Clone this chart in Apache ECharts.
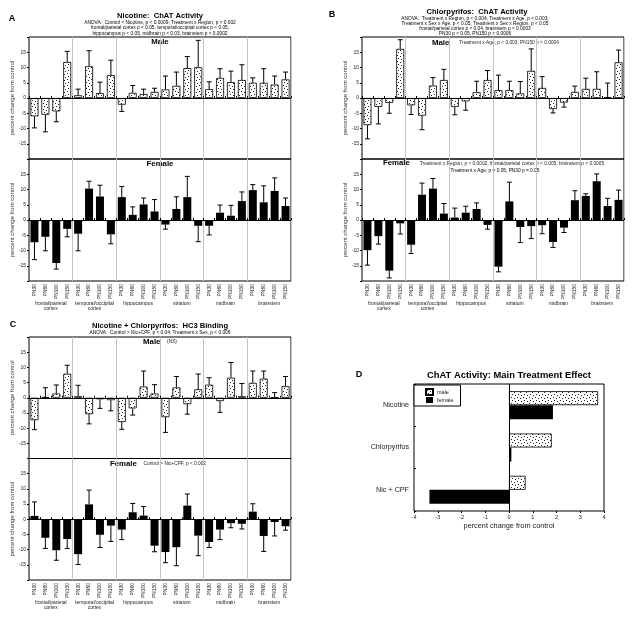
<!DOCTYPE html>
<html>
<head>
<meta charset="utf-8">
<script src="https://cdn.jsdelivr.net/npm/echarts@6/dist/echarts.min.js"></script>
<style>
  html, body { margin: 0; padding: 0; background: #fff; }
  #chart { width: 635px; height: 619px; }
</style>
</head>
<body>
<div id="chart"></div>
<script>
// ages within each brain region
const ages = ['PN30', 'PN60', 'PN100', 'PN150']
const regions = ['frontal/parietal\ncortex', 'temporal/occipital\ncortex', 'hippocampus', 'striatum', 'midbrain', 'brainstem']

// A: nicotine, ChAT activity (% change from control), mean and SE
const nicMale = [-6.0, -5.5, -4.4, 11.8, 0.9, 10.4, 1.6, 7.5, -2.2, 1.7, 1.3, 2.0, 2.8, 4.0, 9.8, 10.1, 2.9, 6.6, 5.2, 5.9, 5.0, 5.0, 4.4, 6.1]
const nicMaleErr = [3.8, 5.6, 3.4, 3.5, 2.0, 5.1, 3.6, 4.9, 2.2, 2.4, 1.6, 1.2, 4.4, 4.5, 3.8, 8.8, 2.4, 3.0, 3.6, 5.0, 1.6, 4.6, 2.8, 2.4]
const nicFemale = [-7.3, -5.5, -14.1, -2.9, -4.5, 10.3, 7.7, -4.7, 7.5, 1.7, 5.1, 2.8, -1.5, 3.6, 7.5, -1.9, -1.9, 2.4, 1.4, 6.2, 9.8, 5.8, 9.5, 4.6]
const nicFemaleErr = [5.7, 4.6, 2.0, 2.6, 5.6, 2.4, 3.7, 3.1, 3.5, 2.6, 2.1, 3.9, 1.5, 4.0, 6.8, 5.2, 3.0, 2.5, 3.4, 3.0, 1.8, 5.4, 4.3, 2.6]

// B: chlorpyrifos, ChAT activity
const cpfMale = [-8.9, -2.9, -1.6, 16.1, -2.4, -5.8, 4.1, 5.9, -2.9, -1.1, 1.9, 5.9, 2.6, 2.6, 1.5, 8.9, 3.3, -3.6, -1.5, 2.0, 3.0, 3.0, 0.3, 11.7]
const cpfMaleErr = [4.5, 5.6, 3.4, 3.0, 3.0, 4.6, 2.6, 3.5, 2.6, 2.9, 3.6, 3.1, 4.9, 2.9, 3.9, 7.2, 3.7, 1.3, 1.5, 1.9, 3.5, 5.6, 4.6, 4.0]
const cpfFemale = [-9.9, -5.3, -16.6, -1.1, -8.1, 8.3, 10.3, 2.1, 0.8, 2.4, 3.6, -1.6, -15.3, 6.1, -2.3, -2.0, -1.7, -7.2, -2.5, 6.5, 7.9, 12.7, 4.6, 6.6]
const cpfFemaleErr = [4.9, 2.6, 2.4, 3.5, 2.9, 3.8, 3.3, 3.3, 3.1, 2.1, 2.0, 1.4, 1.7, 6.3, 5.1, 4.1, 2.8, 1.8, 1.6, 3.1, 0.7, 2.4, 2.5, 3.2]

// C: nicotine + chlorpyrifos, HC3 binding
const ncMale = [-7.4, 0.2, 1.4, 7.9, 0.5, -5.4, -0.5, -0.8, -8.0, -3.5, 3.7, 1.4, -6.4, 3.4, -2.1, 2.8, 4.3, -1.1, 6.6, 0.5, 4.9, 6.3, 0.1, 3.8]
const ncMaleErr = [3.1, 3.1, 2.8, 2.8, 3.6, 3.2, 3.0, 3.5, 2.4, 2.2, 5.1, 2.9, 5.0, 3.6, 3.3, 5.0, 2.3, 3.7, 5.0, 4.2, 3.9, 2.5, 1.6, 3.2]
const ncFemale = [1.1, -6.1, -10.2, -6.5, -11.5, 4.9, -5.1, -2.1, -3.4, 2.3, 1.2, -8.7, -10.8, -9.2, 4.5, -5.4, -7.5, -3.4, -1.3, -1.5, 2.5, -5.5, -0.9, -2.3]
const ncFemaleErr = [4.6, 3.5, 3.3, 3.1, 3.4, 4.7, 4.2, 5.2, 3.3, 2.9, 3.0, 2.0, 3.5, 6.1, 3.8, 6.6, 1.8, 3.3, 1.5, 1.7, 2.6, 5.1, 4.6, 1.3]

// D: main treatment effect
const treatments = ['Nicotine', 'Chlorpyrifos', 'Nic + CPF']
const mainMale = [3.75, 1.8, 0.7]
const mainFemale = [1.85, 0.1, -3.35]

const FONT = 'Liberation Sans'
const cats = []
regions.forEach(() => ages.forEach(a => cats.push(a)))

// stippled fill for the male bars
function dots() {
  const c = document.createElement('canvas')
  c.width = 6
  c.height = 6
  const ctx = c.getContext('2d')
  ctx.fillStyle = '#fff'
  ctx.fillRect(0, 0, 6, 6)
  ctx.fillStyle = '#222'
  ;[[1, 1], [4, 2], [2, 4], [5, 5]].forEach(p => ctx.fillRect(p[0], p[1], 1, 1))
  return { image: c, repeat: 'repeat' }
}
const stipple = dots()

function errBar(params, api) {
  const i = api.value(0)
  const v = api.value(1)
  const e = api.value(2)
  const p0 = api.coord([i, v])
  const p1 = api.coord([i, v >= 0 ? v + e : v - e])
  const st = { stroke: '#000', lineWidth: 1 }
  return {
    type: 'group',
    children: [
      { type: 'line', shape: { x1: p0[0], y1: p0[1], x2: p1[0], y2: p1[1] }, style: st },
      { type: 'line', shape: { x1: p1[0] - 2.5, y1: p1[1], x2: p1[0] + 2.5, y2: p1[1] }, style: st }
    ]
  }
}

const grid = []
const xAxis = []
const yAxis = []
const series = []

function panel(left, top, height, vals, errs, male) {
  const g = grid.length
  grid.push({ left: left, top: top, width: 262, height: height, show: true, borderColor: '#000', borderWidth: 1 })
  const xi = xAxis.length
  xAxis.push({
    type: 'category', gridIndex: g, data: cats, position: 'bottom',
    axisLine: { show: false },
    axisTick: { show: true, inside: true, length: 2, interval: 0, lineStyle: { color: '#000' } },
    axisLabel: { show: !male, rotate: 90, fontSize: 5, margin: 3, interval: 0, color: '#222' },
    splitLine: { show: true, interval: (i) => i > 0 && i % 4 === 0, lineStyle: { color: '#c4c4c4', width: 1 } }
  })
  if (!male) {
    xAxis.push({
      type: 'category', gridIndex: g, data: regions, position: 'bottom', offset: 20,
      axisLine: { show: false }, axisTick: { show: false }, splitLine: { show: false },
      axisLabel: { interval: 0, fontSize: 5, lineHeight: 5.2, margin: 0, color: '#222' }
    })
  }
  const yi = yAxis.length
  yAxis.push({
    type: 'value', gridIndex: g, min: -20, max: 20, interval: 5,
    axisLine: { show: false },
    axisTick: { show: true, length: 2, lineStyle: { color: '#000' } },
    splitLine: { show: false },
    axisLabel: { fontSize: 5, color: '#222', margin: 3, formatter: v => Math.abs(v) === 20 ? '' : String(v) },
    name: 'percent change from control', nameLocation: 'middle', nameGap: 14,
    nameTextStyle: { fontSize: 6, color: '#333' }
  })
  series.push({
    type: 'bar', xAxisIndex: xi, yAxisIndex: yi, data: vals, barWidth: 8,
    itemStyle: male ? { color: stipple, borderColor: '#000', borderWidth: 0.8 } : { color: '#000' },
    markLine: {
      silent: true, symbol: 'none', label: { show: false },
      lineStyle: { color: '#000', type: 'solid', width: 1 },
      data: [{ yAxis: 0 }]
    }
  })
  series.push({
    type: 'custom', xAxisIndex: xi, yAxisIndex: yi, renderItem: errBar,
    encode: { x: 0, y: 1 }, z: 3,
    data: vals.map((v, i) => [i, v, errs[i]])
  })
}

panel(29, 37, 122, nicMale, nicMaleErr, true)
panel(29, 159, 122, nicFemale, nicFemaleErr, false)
panel(362, 37, 122, cpfMale, cpfMaleErr, true)
panel(362, 159, 122, cpfFemale, cpfFemaleErr, false)
panel(29, 337, 121.5, ncMale, ncMaleErr, true)
panel(29, 458.5, 121.5, ncFemale, ncFemaleErr, false)

// panel D
const gd = grid.length
grid.push({ left: 414, top: 384, width: 190, height: 127, show: true, borderColor: '#000', borderWidth: 1 })
const xd = xAxis.length
xAxis.push({
  type: 'value', gridIndex: gd, min: -4, max: 4, interval: 1,
  axisLine: { show: false },
  axisTick: { show: true, length: 2, lineStyle: { color: '#000' } },
  splitLine: { show: false },
  axisLabel: { fontSize: 5.5, color: '#222', margin: 3 },
  name: 'percent change from control', nameLocation: 'middle', nameGap: 11,
  nameTextStyle: { fontSize: 7.3, color: '#222' }
})
const ydx = yAxis.length
yAxis.push({
  type: 'category', gridIndex: gd, data: treatments, inverse: true,
  axisLine: { show: false, onZero: false },
  axisTick: { show: true, inside: true, length: 2, lineStyle: { color: '#000' } },
  axisLabel: { fontSize: 7.2, color: '#222', margin: 5 },
  splitLine: { show: false }
})
series.push({
  name: 'male', type: 'bar', xAxisIndex: xd, yAxisIndex: ydx, data: mainMale,
  barWidth: 14, barGap: '0%',
  itemStyle: { color: stipple, borderColor: '#000', borderWidth: 0.8 },
  markLine: {
    silent: true, symbol: 'none', label: { show: false },
    lineStyle: { color: '#000', type: 'solid', width: 1 },
    data: [{ xAxis: 0 }]
  }
})
series.push({
  name: 'female', type: 'bar', xAxisIndex: xd, yAxisIndex: ydx, data: mainFemale,
  barWidth: 14, barGap: '0%',
  itemStyle: { color: '#000' }
})

function txt(x, y, text, size, bold, align) {
  return {
    type: 'text', x: x, y: y, silent: true,
    style: {
      text: text, fontSize: size, fontWeight: bold ? 'bold' : 'normal', fontFamily: FONT, fill: '#000',
      align: align || 'center', textAlign: align || 'center', verticalAlign: 'middle', textVerticalAlign: 'middle'
    }
  }
}
function rich(x, y, text, align) {
  return {
    type: 'text', x: x, y: y, silent: true,
    style: {
      text: text, fontFamily: FONT, fill: '#000',
      align: align || 'center', textAlign: align || 'center', verticalAlign: 'middle', textVerticalAlign: 'middle',
      rich: {
        b: { fontSize: 7.8, fontWeight: 'bold', fontFamily: FONT, fill: '#000' },
        s: { fontSize: 4.8, fontFamily: FONT, fill: '#222' }
      }
    }
  }
}

const graphic = [
  txt(12, 19, 'A', 9, true),
  txt(160, 15.5, 'Nicotine:  ChAT Activity', 7.6, true),
  txt(160, 22.7, 'ANOVA:  Control < Nicotine, p < 0.0009; Treatment x Region, p < 0.002', 4.8),
  txt(160, 28, 'frontal/parietal cortex p < 0.05, temporal/occipital cortex p < 0.05,', 4.8),
  txt(160, 33.3, 'hippocampus p < 0.05, midbrain p < 0.03, brainstem p < 0.0002', 4.8),
  txt(160, 42.3, 'Male', 7.8, true),
  txt(160, 163.5, 'Female', 7.8, true),

  txt(332, 14.5, 'B', 9, true),
  txt(477, 12, 'Chlorpyrifos:  ChAT Activity', 7.6, true),
  txt(475, 18.7, 'ANOVA:  Treatment x Region, p < 0.004; Treatment x Age, p < 0.003;', 4.8),
  txt(475, 23.7, 'Treatment x Sex x Age, p < 0.05; Treatment x Sex x Region, p < 0.05', 4.8),
  txt(475, 28.7, 'frontal/parietal cortex p < 0.04, brainstem p < 0.0003', 4.8),
  txt(475, 33.7, 'PN30 p < 0.05, PN150 p < 0.0006', 4.8),
  rich(432, 42.7, '{b|Male}   {s|Treatment x Age, p < 0.003; PN150 p < 0.0004}', 'left'),
  rich(383, 163.3, '{b|Female}   {s|Treatment x Region, p < 0.0002; frontal/parietal cortex p < 0.005, brainstem p < 0.0005}', 'left'),
  txt(495, 170.3, 'Treatment x Age, p = 0.05; PN30 p = 0.05', 4.8),

  txt(13, 325, 'C', 9, true),
  txt(160, 325.7, 'Nicotine + Chlorpyrifos:  HC3 Binding', 7.6, true),
  txt(160, 332.2, 'ANOVA:  Control > Nic+CPF, p < 0.04; Treatment x Sex, p < 0.006', 4.8),
  rich(160, 342, '{b|Male}  {s|(NS)}'),
  rich(158, 463.7, '{b|Female}  {s|Control > Nic+CPF, p < 0.002}'),

  txt(359, 375, 'D', 9, true),
  txt(509, 375, 'ChAT Activity: Main Treatment Effect', 9.4, true)
]

const myChart = echarts.init(document.getElementById('chart'))

myChart.setOption({
  backgroundColor: '#fff',
  animation: false,
  textStyle: { fontFamily: FONT },
  grid: grid,
  xAxis: xAxis,
  yAxis: yAxis,
  legend: {
    data: ['male', 'female'], orient: 'vertical', left: 414, top: 385,
    itemWidth: 7, itemHeight: 6, itemGap: 1, icon: 'rect',
    padding: [3, 7, 3, 11], borderColor: '#000', borderWidth: 1, backgroundColor: '#fff',
    selectedMode: false,
    textStyle: { fontSize: 5.5, color: '#222', padding: [0, 0, 0, -1] }
  },
  graphic: graphic,
  series: series
})
</script>
</body>
</html>
